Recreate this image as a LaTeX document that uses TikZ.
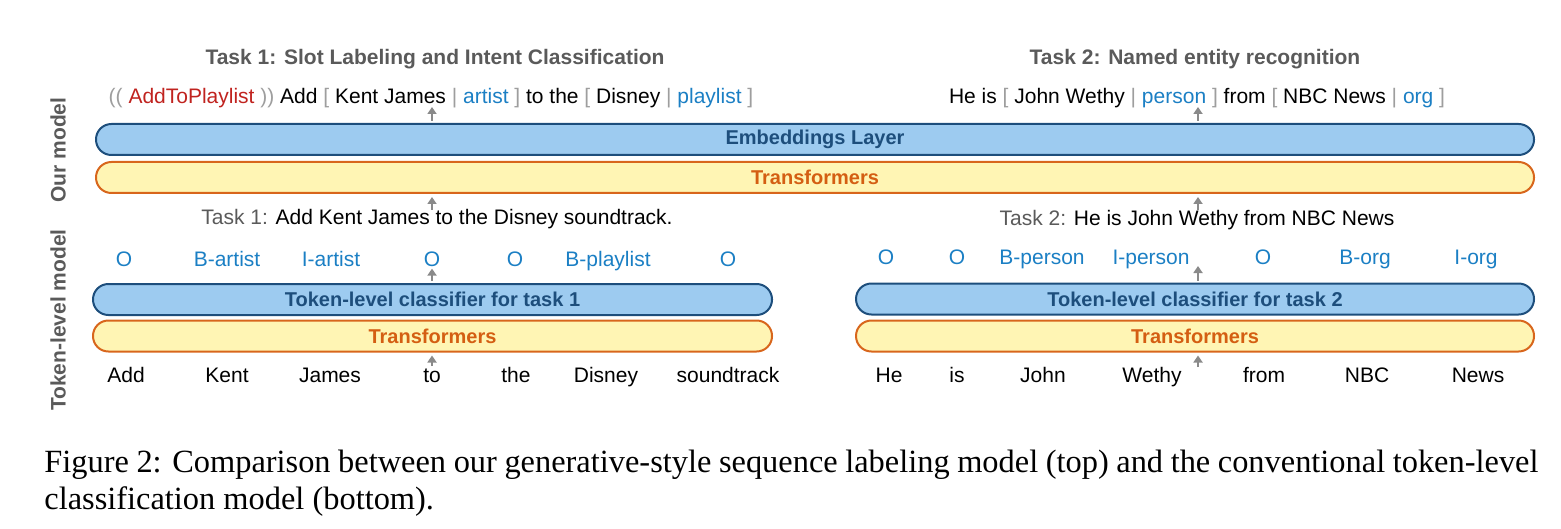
\documentclass[tikz,border=0pt]{standalone}
\usepackage{fontspec}
\setmainfont{Liberation Serif}
\newfontfamily\diagfont{Liberation Sans}
\usepackage{tikz}
\usetikzlibrary{arrows.meta,positioning}

\definecolor{embfill}{HTML}{9DCBF0}
\definecolor{embline}{HTML}{1D4E7C}
\definecolor{transfill}{HTML}{FFF5B4}
\definecolor{transline}{HTML}{D8661C}
\definecolor{transtext}{HTML}{D45E12}
\definecolor{tagblue}{HTML}{1B7FC4}
\definecolor{intentred}{HTML}{C0231F}
\definecolor{brgray}{HTML}{9E9E9E}
\definecolor{titlegray}{HTML}{5A5A5A}
\definecolor{arrowgray}{HTML}{8A8A8A}

\newcommand{\brk}[1]{{\color{brgray}#1}}
\newcommand{\slot}[1]{{\color{tagblue}#1}}

\tikzset{
  layer/.style={rounded corners=7.7pt, line width=1pt, minimum height=15.5pt, inner sep=0pt,
    font=\diagfont\bfseries\fontsize{10}{12}\selectfont},
  emblayer/.style={layer, draw=embline, fill=embfill, text=embline},
  translayer/.style={layer, draw=transline, fill=transfill, text=transtext},
  word/.style={anchor=base, inner sep=1pt, font=\diagfont\fontsize{10.5}{12}\selectfont},
  tag/.style={word, text=tagblue},
  tasktitle/.style={anchor=base, inner sep=1pt, text=titlegray, font=\diagfont\bfseries\fontsize{10.5}{12}\selectfont},
  sidelabel/.style={rotate=90, inner sep=1pt, text=titlegray, font=\diagfont\bfseries\fontsize{10.5}{12}\selectfont},
  caption/.style={anchor=base west, inner sep=0pt, font=\fontsize{16.2}{19.5}\selectfont},
  uparrow/.style={-{Triangle[length=3.5pt,width=4.5pt]}, color=arrowgray, line width=1pt},
}

\begin{document}
\begin{tikzpicture}[x=0.5pt, y=-0.5pt]
  \useasboundingbox (0,0) rectangle (1561,529);

  % side labels
  \node[sidelabel] (our) at (58,150) {Our model};
  \node[sidelabel] (tok) at (58,320) {Token-level model};

  % our model
  \node[tasktitle] (title1) at (435,65) {Task 1: Slot Labeling and Intent Classification};
  \node[tasktitle] (title2) at (1195,65) {Task 2: Named entity recognition};
  \node[word] (out1) at (431,104) {\brk{((} {\color{intentred}AddToPlaylist} \brk{))} Add \brk{[} Kent James \brk{|} \slot{artist} \brk{]} to the \brk{[} Disney \brk{|} \slot{playlist} \brk{]}};
  \node[word] (out2) at (1197,104) {He is \brk{[} John Wethy \brk{|} \slot{person} \brk{]} from \brk{[} NBC News \brk{|} \slot{org} \brk{]}};
  \node[emblayer, minimum width=719pt] (emb) at (815,139.5) {Embeddings Layer};
  \node[translayer, minimum width=719pt] (tr) at (815,177.5) {Transformers};
  \node[word] (in1) at (437,224) {\color{titlegray}Task 1: \color{black}Add Kent James to the Disney soundtrack.};
  \node[word] (in2) at (1197,226) {\color{titlegray}Task 2: \color{black}He is John Wethy from NBC News};

  \coordinate (up1) at (432,107);
  \coordinate (up2) at (1198,107);
  \coordinate (dn1) at (432,210);
  \coordinate (dn2) at (1198,210);
  \path[uparrow, shorten <=1pt]
    (up1 |- emb.north) edge (up1)
    (up2 |- emb.north) edge (up2)
  ;
  \path[uparrow, shorten >=1.5pt]
    (dn1) edge (dn1 |- tr.south)
    (dn2) edge (dn2 |- tr.south)
  ;

  % token-level model, task 1
  \node[emblayer, minimum width=339.5pt] (cls1) at (432.5,299.5) {Token-level classifier for task 1};
  \node[translayer, minimum width=339.5pt] (tr1) at (432.5,336) {Transformers};
  \foreach \x/\t [count=\i] in {124/O, 227/B-artist, 331/I-artist, 432/O, 515/O, 608/B-playlist, 728/O}
    \node[tag] (tagA-\i) at (\x,266) {\t};
  \foreach \x/\t [count=\i] in {126/Add, 227/Kent, 330/James, 432/to, 516/the, 606/Disney, 728/soundtrack}
    \node[word] (wordA-\i) at (\x,382) {\t};
  \path[uparrow, shorten <=1pt]
    (tagA-4 |- cls1.north) edge (tagA-4.south)
  ;
  \path[uparrow, shorten >=1.5pt]
    (wordA-4.north) edge (wordA-4 |- tr1.south)
  ;

  % token-level model, task 2
  \node[emblayer, minimum width=339pt] (cls2) at (1195,299) {Token-level classifier for task 2};
  \node[translayer, minimum width=339pt] (tr2) at (1195,336) {Transformers};
  \foreach \x/\t [count=\i] in {886/O, 957/O, 1042/B-person, 1151/I-person, 1263/O, 1365/B-org, 1476/I-org}
    \node[tag] (tagB-\i) at (\x,264) {\t};
  \foreach \x/\t [count=\i] in {889/He, 957/is, 1043/John, 1152/Wethy, 1264/from, 1367/NBC, 1478/News}
    \node[word] (wordB-\i) at (\x,382) {\t};
  \coordinate (tup2) at (1198,266);
  \coordinate (wup2) at (1198,367);
  \path[uparrow, shorten <=1pt]
    (tup2 |- cls2.north) edge (tup2)
  ;
  \path[uparrow, shorten >=1.5pt]
    (wup2) edge (wup2 |- tr2.south)
  ;

  % caption
  \node[caption] (cap1) at (44,472) {\makebox[747pt][s]{Figure 2: Comparison between our generative-style sequence labeling model (top) and the conventional token-level}};
  \node[caption] (cap2) at (44,509) {classification model (bottom).};
\end{tikzpicture}
\end{document}
